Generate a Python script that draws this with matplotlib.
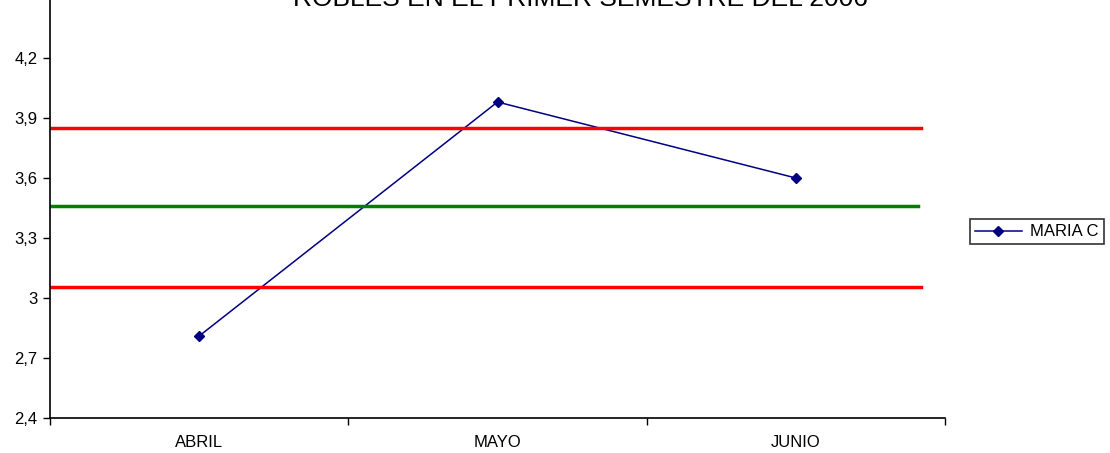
import numpy as np
import matplotlib
matplotlib.use("Agg")
import matplotlib.pyplot as plt

plt.rcParams["font.family"] = ["Liberation Sans", "DejaVu Sans"]

# datos
meses = ["ABRIL", "MAYO", "JUNIO"]
maria_c = [2.81, 3.98, 3.60]
promedio = 3.46
lim_sup = 3.85
lim_inf = 3.055
titulo = "ROBLES EN EL PRIMER SEMESTRE DEL 2006"
yticks = [2.4, 2.7, 3.0, 3.3, 3.6, 3.9, 4.2]

fig = plt.figure(figsize=(11.1, 4.53), dpi=100)
ax = fig.add_axes([50 / 1110, 35 / 453, 895 / 1110, 420 / 453])

x = np.arange(len(meses))
ax.plot(x, maria_c, color="#000080", lw=1.1, marker="D", ms=5.5,
        mfc="#000080", mec="#000080", label="MARIA C")

# lineas de control (no llegan al final del eje)
x_fin = 2.42
ax.plot([-0.5, x_fin], [lim_sup, lim_sup], color="#ff0000", lw=2.5)
ax.plot([-0.5, x_fin - 0.01], [promedio, promedio], color="#008000", lw=2.5)
ax.plot([-0.5, x_fin], [lim_inf, lim_inf], color="#ff0000", lw=2.5)

ax.set_xlim(-0.5, 2.5)
ax.set_ylim(2.4, 4.5)
ax.set_yticks(yticks)
ax.set_yticklabels([f"{v:g}".replace(".", ",") for v in yticks], fontsize=12)
ax.set_xticks([-0.5, 0.5, 1.5, 2.5])
ax.set_xticklabels([])
ax.set_xticks(x, minor=True)
ax.set_xticklabels(meses, minor=True, fontsize=12)
ax.tick_params(axis="x", which="minor", length=0, pad=12)
ax.tick_params(axis="x", which="major", length=5, width=1)
ax.tick_params(axis="y", length=5, width=1, pad=4)
for s in ["top", "right"]:
    ax.spines[s].set_visible(False)
ax.spines["left"].set_linewidth(1.2)
ax.spines["bottom"].set_linewidth(1.2)

# titulo cortado en el borde superior, como en la imagen original
fig.text(0.523, 1 - 6 / 453, titulo, fontsize=19, ha="center", va="baseline")

leg = fig.legend(loc="center left", bbox_to_anchor=(970 / 1110, 1 - 232 / 453),
                 frameon=True, fancybox=False, edgecolor="black",
                 fontsize=12, handlelength=2.8, borderpad=0.3,
                 handletextpad=0.5, borderaxespad=0)
leg.get_frame().set_linewidth(1.2)

fig.savefig("out.png", dpi=100)
